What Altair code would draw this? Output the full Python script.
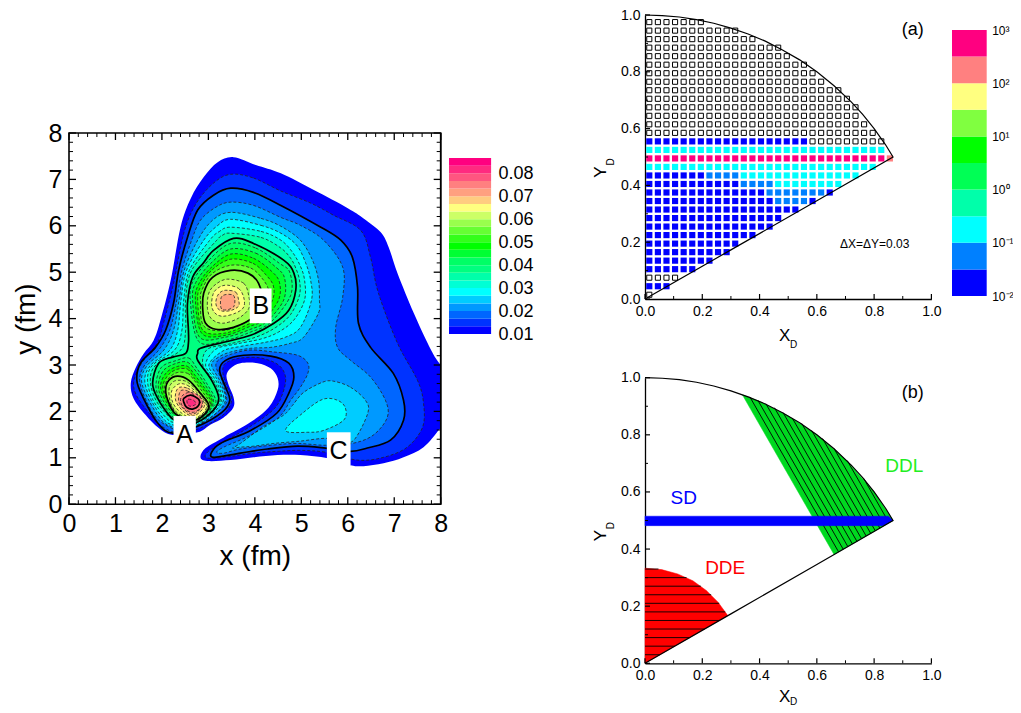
import altair as alt
import pandas as pd

FONT = "Liberation Sans"

# ---------- contour map: levels and colours ----------
BAND_COLORS = ["#0000ff", "#0033ff", "#0066ff", "#0099ff", "#00ccff", "#00ffff", "#00ffd5", "#00ffaa",
               "#00ff80", "#00ff66", "#00ff33", "#00ff00", "#33ff1a", "#66ff33", "#99ff4d", "#ccff66",
               "#ffff80", "#ffcc80", "#ffa080", "#ff8080", "#ff5580", "#ff2a80", "#ff0080"]
SOLID_LEVELS = [2, 8, 14, 20]
BAND_LOW = [0.01 + i / 300 for i in range(23)]
BAND_HIGH = [0.01 + (i + 1) / 300 for i in range(23)]

M0 = [(3.54,7.48),(4.02,7.31),(4.56,7.13),(5.27,6.77),(6.0,6.38),(6.34,6.16),(6.71,5.86),(6.88,5.54),(7.07,4.98),(7.42,4.12),(7.72,3.47),(7.89,3.15),(8.0,3.0),(8.1,2.9),(8.1,1.8),(7.96,1.6),(7.63,1.23),(7.2,1.01),(6.77,.88),(6.34,.82),(6.06,.84),(5.57,.99),(4.98,1.06),(4.49,1.06),(3.97,1.01),(3.48,.95),(2.98,.93),(2.83,1.01),(2.94,1.21),(3.33,1.44),(3.91,1.77),(4.3,2.09),(4.49,2.46),(4.49,2.72),(4.34,2.93),(4.06,3.04),(3.69,3.04),(3.48,2.93),(3.39,2.78),(3.44,2.56),(3.54,2.31),(3.54,2.09),(3.33,1.87),(3.05,1.72),(2.77,1.55),(2.23,1.49),(1.93,1.64),(1.65,1.92),(1.39,2.28),(1.33,2.61),(1.44,2.95),(1.61,3.25),(1.82,3.53),(1.97,3.97),(2.19,4.83),(2.4,5.97),(2.62,6.59),(2.9,7.05),(3.2,7.37)]
M1 = [(3.48,7.11),(3.97,7.03),(4.56,6.75),(5.2,6.49),(5.69,6.23),(6.28,5.9),(6.49,5.32),(6.66,4.55),(7.07,3.47),(7.5,2.67),(7.63,2.18),(7.61,1.66),(7.28,1.23),(6.77,1.01),(6.21,.95),(5.52,1.12),(4.98,1.16),(4.49,1.14),(3.97,1.1),(3.48,1.03),(3.12,.99),(2.94,1.01),(2.98,1.12),(3.2,1.27),(3.91,1.68),(4.41,2.05),(4.6,2.39),(4.66,2.74),(4.51,3.0),(4.13,3.15),(3.69,3.15),(3.37,3.04),(3.31,2.84),(3.4,2.54),(3.5,2.24),(3.31,1.92),(2.77,1.62),(2.3,1.55),(1.97,1.7),(1.71,1.98),(1.46,2.33),(1.39,2.61),(1.5,2.93),(1.69,3.21),(1.91,3.49),(2.04,3.92),(2.25,4.76),(2.47,5.84),(2.73,6.47),(3.11,6.92)]
M2 = [(3.48,6.81),(3.97,6.72),(4.56,6.44),(5.42,5.97),(5.85,5.69),(6.1,5.32),(6.21,4.68),(6.23,3.9),(6.49,3.38),(6.98,2.82),(7.2,2.24),(7.2,1.81),(6.92,1.38),(6.42,1.21),(6.06,1.14),(5.52,1.21),(4.92,1.25),(4.27,1.19),(3.69,1.1),(3.12,1.01),(3.07,1.12),(3.26,1.31),(3.91,1.59),(4.47,1.96),(4.73,2.39),(4.84,2.74),(4.73,3.04),(4.34,3.19),(3.76,3.21),(3.37,3.1),(3.24,2.89),(3.37,2.52),(3.46,2.24),(3.29,1.98),(2.77,1.68),(2.23,1.53),(1.91,1.75),(1.59,2.31),(1.46,2.67),(1.54,3.04),(1.86,3.38),(2.08,3.75),(2.25,4.33),(2.36,5.04),(2.55,5.75),(2.77,6.34),(3.11,6.66)]
M3 = [(3.48,6.51),(3.97,6.44),(4.56,6.18),(4.98,6.01),(5.48,5.69),(5.89,5.11),(5.89,4.46),(5.74,3.81),(5.78,3.38),(6.06,3.1),(6.49,2.74),(6.81,2.24),(6.85,1.87),(6.55,1.49),(6.1,1.31),(5.52,1.27),(4.9,1.31),(4.34,1.27),(3.69,1.19),(3.33,1.1),(3.18,1.12),(3.33,1.23),(3.91,1.49),(4.51,1.87),(4.77,2.24),(4.98,2.52),(5.14,2.82),(5.14,3.04),(4.92,3.21),(4.41,3.28),(3.85,3.32),(3.33,3.17),(3.16,3.0),(3.29,2.67),(3.39,2.31),(3.35,2.13),(3.09,1.9),(2.77,1.7),(2.47,1.55),(1.93,1.81),(1.66,2.24),(1.52,2.67),(1.63,3.0),(1.93,3.32),(2.17,3.75),(2.32,4.4),(2.43,5.04),(2.64,5.69),(2.83,6.12),(3.16,6.4)]
M4 = [(3.48,6.29),(4.13,6.16),(4.56,5.99),(4.98,5.69),(5.24,5.26),(5.37,4.83),(5.39,4.4),(5.37,4.12),(5.05,3.6),(4.77,3.47),(4.34,3.38),(3.91,3.36),(3.48,3.28),(3.22,3.17),(3.07,3.0),(3.24,2.67),(3.37,2.31),(3.29,2.09),(3.03,1.85),(2.77,1.7),(2.53,1.59),(2.23,1.66),(1.99,1.81),(1.72,2.24),(1.56,2.67),(1.69,3.0),(2.04,3.32),(2.25,3.75),(2.37,4.4),(2.48,5.04),(2.77,5.69),(3.09,6.12)]
C4 = [(5.7,2.65),(6.06,2.52),(6.38,2.24),(6.43,1.96),(6.13,1.38),(5.85,1.36),(5.52,1.42),(4.98,1.36),(4.41,1.31),(3.97,1.25),(3.69,1.23),(3.52,1.21),(3.69,1.31),(4.17,1.66),(4.62,1.92),(4.81,2.13),(5.05,2.41),(5.46,2.63)]
M5 = [(3.48,6.14),(4.13,6.01),(4.56,5.84),(4.9,5.58),(5.09,5.21),(5.2,4.83),(5.22,4.4),(4.98,3.81),(4.66,3.6),(4.23,3.49),(3.69,3.4),(3.31,3.3),(3.01,3.0),(3.2,2.67),(3.33,2.31),(3.24,2.11),(2.98,1.87),(2.77,1.72),(2.58,1.64),(2.27,1.7),(2.06,1.81),(1.77,2.24),(1.63,2.67),(1.76,3.0),(2.17,3.32),(2.34,3.75),(2.41,4.4),(2.53,5.04),(2.9,5.69),(3.18,5.99)]
C5 = [(5.78,2.24),(5.95,2.07),(5.91,1.81),(5.48,1.59),(5.14,1.55),(4.66,1.59),(5.05,1.98),(5.46,2.26)]
M6 = [(3.48,5.97),(4.13,5.88),(4.56,5.69),(4.81,5.43),(4.98,5.13),(5.07,4.83),(5.07,4.4),(4.84,3.97),(4.51,3.71),(4.13,3.56),(3.59,3.45),(3.16,3.34),(2.94,3.0),(3.16,2.67),(3.29,2.31),(3.2,2.11),(2.94,1.9),(2.75,1.75),(2.62,1.68),(2.32,1.75),(2.12,1.83),(1.81,2.24),(1.69,2.67),(1.8,3.0),(2.27,3.32),(2.43,3.75),(2.47,4.4),(2.59,5.04),(3.03,5.69),(3.24,5.88)]
M7 = [(3.48,5.84),(4.13,5.75),(4.56,5.52),(4.77,5.3),(4.88,5.09),(4.96,4.83),(4.96,4.5),(4.77,4.09),(4.45,3.81),(4.02,3.6),(3.44,3.45),(2.98,3.34),(2.88,3.0),(3.11,2.67),(3.26,2.31),(3.16,2.11),(2.9,1.9),(2.75,1.79),(2.66,1.72),(2.36,1.79),(2.17,1.87),(1.87,2.24),(1.75,2.67),(1.87,3.0),(2.4,3.32),(2.51,3.75),(2.51,4.4),(2.64,5.04),(3.18,5.69),(3.31,5.8)]
M8 = [(3.54,5.73),(3.97,5.62),(4.62,5.26),(4.84,4.98),(4.88,4.61),(4.73,4.18),(4.41,3.9),(3.91,3.64),(3.33,3.49),(2.83,3.36),(2.77,3.25),(2.77,3.1),(3.07,2.67),(3.22,2.31),(3.16,2.09),(2.94,1.87),(2.77,1.77),(2.55,1.7),(2.3,1.79),(2.15,1.92),(1.91,2.28),(1.8,2.61),(1.93,3.04),(2.23,3.17),(2.51,3.25),(2.57,3.47),(2.57,3.75),(2.55,4.33),(2.66,4.89),(2.9,5.21),(3.11,5.47)]
B9 = [(3.48,5.62),(4.02,5.52),(4.53,5.19),(4.75,5.0),(4.77,4.5),(4.34,3.92),(3.91,3.71),(3.37,3.53),(2.79,3.51),(2.61,4.4),(2.68,4.83),(3.03,5.28)]
B10 = [(3.48,5.5),(4.02,5.41),(4.45,5.11),(4.64,4.87),(4.62,4.4),(4.26,3.94),(3.91,3.77),(3.37,3.6),(2.81,3.6),(2.66,4.4),(2.73,4.78),(3.05,5.19)]
B11 = [(3.48,5.39),(3.97,5.3),(4.36,5.02),(4.53,4.78),(4.51,4.4),(4.19,3.97),(3.91,3.84),(3.37,3.64),(2.86,3.68),(2.72,4.4),(2.79,4.74),(3.05,5.09)]
B12 = [(3.48,5.28),(3.96,5.19),(4.25,4.93),(4.4,4.7),(4.38,4.4),(4.12,3.99),(3.91,3.9),(3.37,3.69),(2.88,3.75),(2.77,4.4),(2.83,4.68),(3.07,5.04)]
B13 = [(3.48,5.15),(3.91,5.09),(4.17,4.85),(4.3,4.61),(4.28,4.4),(4.04,4.01),(3.91,3.97),(3.37,3.75),(2.9,3.84),(2.83,4.4),(2.86,4.61),(3.07,4.96)]
B14 = [(3.48,5.04),(3.85,4.98),(4.08,4.76),(4.17,4.33),(3.97,4.03),(3.54,3.81),(3.16,3.77),(2.94,3.9),(2.88,4.18),(2.9,4.55),(3.09,4.89)]
B15 = [(3.41,4.85),(3.76,4.76),(3.87,4.48),(3.87,4.22),(3.65,4.01),(3.31,3.9),(3.07,3.99),(2.98,4.22),(3.01,4.55),(3.16,4.74)]
B16 = [(3.41,4.72),(3.65,4.65),(3.76,4.46),(3.76,4.25),(3.59,4.12),(3.31,4.05),(3.14,4.12),(3.07,4.29),(3.11,4.55),(3.24,4.68)]
B17 = [(3.41,4.61),(3.59,4.57),(3.65,4.4),(3.65,4.27),(3.5,4.18),(3.31,4.16),(3.2,4.22),(3.16,4.35),(3.2,4.5),(3.29,4.59)]
B18 = [(3.29,4.48),(3.54,4.5),(3.54,4.25),(3.29,4.2)]
A9 = [(2.32,3.1),(2.58,3.15),(2.75,2.93),(2.96,2.61),(3.16,2.24),(3.07,2.07),(2.9,1.9),(2.73,1.77),(2.55,1.72),(2.32,1.81),(2.19,1.94),(1.97,2.24),(1.87,2.56),(1.99,2.95)]
A10 = [(2.32,3.04),(2.55,3.06),(2.73,2.87),(2.94,2.56),(3.11,2.24),(3.03,2.05),(2.88,1.9),(2.73,1.79),(2.4,1.81),(2.23,1.96),(2.02,2.24),(1.92,2.56),(2.04,2.89)]
A11 = [(2.34,2.97),(2.55,2.97),(2.71,2.78),(2.92,2.5),(3.08,2.24),(3.01,2.05),(2.86,1.9),(2.71,1.81),(2.43,1.83),(2.25,2.0),(2.06,2.26),(1.97,2.56),(2.1,2.84)]
A12 = [(2.34,2.91),(2.55,2.91),(2.68,2.74),(2.9,2.46),(3.05,2.22),(2.98,2.03),(2.83,1.9),(2.68,1.81),(2.38,1.87),(2.23,2.05),(2.08,2.31),(2.02,2.56),(2.15,2.8)]
A13 = [(2.34,2.84),(2.55,2.82),(2.68,2.69),(2.88,2.41),(3.03,2.18),(2.94,1.96),(2.81,1.87),(2.68,1.81),(2.34,1.92),(2.21,2.11),(2.08,2.33),(2.06,2.56),(2.17,2.74)]
A14 = [(2.34,2.76),(2.58,2.67),(2.83,2.39),(3.01,2.13),(2.9,1.92),(2.68,1.81),(2.3,1.94),(2.15,2.18),(2.08,2.46),(2.15,2.67)]
A15 = [(2.34,2.67),(2.55,2.63),(2.81,2.39),(2.98,2.13),(2.88,1.92),(2.66,1.83),(2.34,1.96),(2.19,2.18),(2.15,2.46),(2.21,2.61)]
A16 = [(2.36,2.59),(2.55,2.56),(2.79,2.37),(2.96,2.13),(2.86,1.94),(2.64,1.85),(2.38,2.0),(2.23,2.2),(2.21,2.44)]
A17 = [(2.38,2.52),(2.55,2.5),(2.75,2.37),(2.92,2.16),(2.81,1.98),(2.64,1.9),(2.43,2.03),(2.3,2.22),(2.3,2.41)]
A18 = [(2.4,2.44),(2.55,2.44),(2.71,2.33),(2.86,2.13),(2.77,2.0),(2.64,1.94),(2.47,2.05),(2.36,2.22)]
A19 = [(2.45,2.35),(2.62,2.41),(2.83,2.31),(2.86,2.11),(2.68,1.98),(2.49,2.05),(2.4,2.22)]
A20 = [(2.47,2.28),(2.62,2.35),(2.79,2.26),(2.79,2.13),(2.66,2.05),(2.53,2.09),(2.47,2.2)]
A21 = [(2.55,2.26),(2.68,2.24),(2.73,2.16),(2.62,2.11),(2.55,2.16)]

CONTOURS = [(0,M0),(1,M1),(2,M2),(3,M3),(4,M4),(4,C4),(5,M5),(5,C5),(6,M6),(7,M7),(8,M8),
            (9,B9),(10,B10),(11,B11),(12,B12),(13,B13),(14,B14),(15,B15),(16,B16),(17,B17),(18,B18),
            (9,A9),(10,A10),(11,A11),(12,A12),(13,A13),(14,A14),(15,A15),(16,A16),(17,A17),(18,A18),(19,A19),(20,A20),(21,A21)]

LETTERS = ["A", "B", "C"]
LETTER_X = [2.49, 4.13, 5.8]
LETTER_Y = [1.5, 4.27, 1.15]
BOX_X1 = [2.25, 3.89, 5.55]
BOX_X2 = [2.73, 4.36, 6.06]
BOX_Y1 = [1.16, 3.9, .84]
BOX_Y2 = [1.9, 4.65, 1.55]

# ---------- panel (a) ----------
CELL_COLORS = {"B": "#0000ff", "L": "#0080ff", "C": "#00ffff", "P": "#ff0080", "S": "#ff8080"}
ROWS = ["o", "BBB", "oooo", "BBBBBB", "B"*8, "B"*10, "B"*11, "B"*13, "B"*15, "B"*16, "B"*18,
        "B"*15+"LLLL"+"B", "B"*14+"L"*7+"B", "B"*11+"LLLL"+"C"*8, "B"*7+"LLLL"+"C"*14, "C"*27,
        "P"*28+"S", "C"*28, "B"*19+"o"*9, "o"*27, "o"*26, "o"*25, "o"*25, "o"*24, "o"*23, "o"*21,
        "o"*20, "o"*19, "o"*17, "o"*16, "o"*13, "o"*11, "o"*7]
BAR_A_COLORS = ["#0000ff", "#0080ff", "#00ffff", "#00ffaa", "#00ff55", "#00ff00", "#80ff40", "#ffff80", "#ff8080", "#ff0080"]
BAR_A_LOW = [.01, .0316, .1, .316, 1, 3.16, 10, 31.6, 100, 316]
BAR_A_HIGH = [.0316, .1, .316, 1, 3.16, 10, 31.6, 100, 316, 1000]

# ---------- panels: outline and regions ----------
OUT_X = [0, .06, .12, .18, .24, .3, .36, .42, .48, .54, .6, .66, .72, .76, .8, .84, .866, .6, .3, 0]
OUT_Y = [1, .998, .993, .984, .971, .954, .933, .908, .877, .842, .8, .751, .694, .65, .6, .543, .5, .346, .173, 0]
RED_X = [0, 0, .058, .114, .167, .214, .255, .289]
RED_Y = [0, .333, .328, .313, .289, .255, .214, .167]
GREEN_X = [.34, .4, .5, .6, .7, .8, .866, .66]
GREEN_Y = [.94, .917, .866, .8, .714, .6, .5, .381]
BLUE_X = [0, .83, .866, .85, 0]
BLUE_Y = [.482, .482, .5, .515, .515]
RED_H_Y = [.03, .06, .09, .12, .15, .18, .21, .24, .27, .30, .33]
RED_H_X = [.052, .104, .156, .208, .26, .28, .259, .231, .195, .145, .047]
GR_X1 = [.366, .394, .422, .452, .482, .514, .547, .582, .62, .66, .706, .763]
GR_Y1 = [.933, .921, .909, .895, .878, .859, .84, .815, .787, .752, .71, .648]
GR_X2 = [.676, .692, .708, .724, .74, .756, .772, .788, .804, .82, .836, .852]
GR_Y2 = [.39, .3995, .409, .418, .427, .436, .446, .455, .464, .473, .483, .492]

# ---------- geometry ----------
MAP_W, MAP_H = 371.7, 371.2
BAR1_W, BAR1_H = 42.1, 176
P_W, P_H = 286.4, 285.6
P_H_A = 284
BAR2_W, BAR2_H = 34.7, 266

ONE = pd.DataFrame({"v": [0]})


def spacer(w, h):
    return (alt.Chart(ONE).mark_rule(opacity=0, strokeWidth=0).encode(x=alt.value(0), y=alt.value(0))
            .properties(width=w, height=h, view=alt.ViewConfig(stroke=None)))


def tick_layer(values, side, length, xpos, ypos, w, h, sw=1.0):
    df = pd.DataFrame({"x": values, "y": values})
    m = alt.Chart(df).mark_rule(color="black", strokeWidth=sw)
    if side in ("bottom", "top"):
        y0, y1 = (h, h - length) if side == "bottom" else (0, length)
        return m.encode(x=xpos, y=alt.value(y0), y2=alt.value(y1))
    x0, x1 = (0, length) if side == "left" else (w, w - length)
    return m.encode(y=ypos, x=alt.value(x0), x2=alt.value(x1))


def px_text(txt, x, y, size, angle=0, color="black"):
    return alt.Chart(ONE).mark_text(text=txt, fontSize=size, font=FONT, color=color, angle=angle,
                                    align="center", baseline="middle").encode(x=alt.value(x), y=alt.value(y))


# ---------- map ----------
rows = []
for pid, (k, pts) in enumerate(CONTOURS):
    for i, (x, y) in enumerate(pts):
        rows.append({"x": x, "y": y, "i": i, "poly": pid, "k": k, "fillc": BAND_COLORS[k]})
cdf = pd.DataFrame(rows)

mx = alt.Scale(domain=[0, 8], nice=False, zero=False)
my = alt.Scale(domain=[0, 8], nice=False, zero=False)
AX_MX = alt.Axis(values=list(range(9)), title="x (fm)", grid=False, ticks=False,
                 labelFontSize=25, titleFontSize=28, labelPadding=7, titlePadding=6,
                 titleFontWeight="normal", domain=False, labelFont=FONT, titleFont=FONT,
                 labelColor="black", titleColor="black", labelFlush=False, labelOverlap=False, format="d")
AX_MY = alt.Axis(values=list(range(9)), title="y (fm)", grid=False, ticks=False,
                 labelFontSize=25, titleFontSize=28, labelPadding=7, titlePadding=8,
                 titleFontWeight="normal", domain=False, labelFont=FONT, titleFont=FONT,
                 labelColor="black", titleColor="black", labelFlush=False, labelOverlap=False, format="d")
X_MAP = alt.X("x:Q", scale=mx, axis=AX_MX)
Y_MAP = alt.Y("y:Q", scale=my, axis=AX_MY)

fills = alt.Chart(cdf).mark_line(clip=True, strokeWidth=0, interpolate="cardinal-closed").encode(
    x=X_MAP, y=Y_MAP, order="i:Q", detail="poly:N", fill=alt.Fill("fillc:N", scale=None))
dashed = alt.Chart(cdf[(cdf.k > 0) & (~cdf.k.isin(SOLID_LEVELS))]).mark_line(
    clip=True, strokeWidth=0.8, strokeDash=[3, 2], color="#222222", interpolate="cardinal-closed").encode(
    x=X_MAP, y=Y_MAP, order="i:Q", detail="poly:N")
solid = alt.Chart(cdf[cdf.k.isin(SOLID_LEVELS)]).mark_line(
    clip=True, strokeWidth=1.7, color="black", interpolate="cardinal-closed").encode(
    x=X_MAP, y=Y_MAP, order="i:Q", detail="poly:N")
ldf = pd.DataFrame({"t": LETTERS, "x": LETTER_X, "y": LETTER_Y, "x1": BOX_X1, "x2": BOX_X2, "y1": BOX_Y1, "y2": BOX_Y2})
boxes = alt.Chart(ldf).mark_rect(color="white").encode(
    x=alt.X("x1:Q", scale=mx, axis=AX_MX), x2="x2:Q", y=alt.Y("y1:Q", scale=my, axis=AX_MY), y2="y2:Q")
letters = alt.Chart(ldf).mark_text(fontSize=25, font=FONT, color="black").encode(x=X_MAP, y=Y_MAP, text="t:N")
right_edge = alt.Chart(pd.DataFrame({"x": [8]})).mark_rule(color="black", strokeWidth=1.5).encode(x=X_MAP)

MAJ = list(range(9))
MIN = [round(i * .2, 1) for i in range(41) if i % 5]
map_ticks = []
for side in ("bottom", "top", "left", "right"):
    map_ticks += [tick_layer(MAJ, side, 7, X_MAP, Y_MAP, MAP_W, MAP_H, 1.3),
                  tick_layer(MIN, side, 4, X_MAP, Y_MAP, MAP_W, MAP_H)]

map_chart = alt.layer(fills, dashed, solid, boxes, letters, right_edge, *map_ticks).properties(
    width=MAP_W, height=MAP_H, view=alt.ViewConfig(stroke="black", strokeWidth=1.6))

# ---------- colour bar 1 ----------
bdf = pd.DataFrame({"lo": BAND_LOW, "hi": BAND_HIGH, "c": BAND_COLORS})
bar1 = alt.Chart(bdf).mark_rect().encode(
    x=alt.value(0), x2=alt.value(BAR1_W),
    y=alt.Y("lo:Q", scale=alt.Scale(domain=[0.01, 0.01 + 23 / 300], nice=False, zero=False),
            axis=alt.Axis(orient="right", values=[.01, .02, .03, .04, .05, .06, .07, .08], format=".2f", title=None,
                          ticks=False, domain=False, grid=False, labelFontSize=18, labelPadding=7, labelFont=FONT,
                          labelColor="black", labelFlush=False, labelOverlap=False)),
    y2="hi:Q", fill=alt.Fill("c:N", scale=None)).properties(
    width=BAR1_W, height=BAR1_H, view=alt.ViewConfig(stroke=None))

# ---------- right panels ----------
ps = alt.Scale(domain=[0, 1], nice=False, zero=False)


def p_axis():
    return alt.Axis(values=[0, .2, .4, .6, .8, 1], format=".1f", title=None, ticks=False, grid=False, domain=True,
                    domainColor="black", domainWidth=1.3, labelFontSize=14, labelPadding=5, labelFont=FONT,
                    labelColor="black", labelFlush=False, labelOverlap=False)


PX = alt.X("x:Q", scale=ps, axis=p_axis())
PY = alt.Y("y:Q", scale=ps, axis=p_axis())

P_MAJ = [0, .2, .4, .6, .8, 1]
P_MIN = [.1, .3, .5, .7, .9]


def p_ticks(h):
    return [tick_layer(P_MAJ, "bottom", 5, PX, PY, P_W, h, 1.2), tick_layer(P_MIN, "bottom", 3, PX, PY, P_W, h),
            tick_layer(P_MAJ, "left", 5, PX, PY, P_W, h, 1.2), tick_layer(P_MIN, "left", 3, PX, PY, P_W, h)]


odf = pd.DataFrame({"x": OUT_X, "y": OUT_Y, "i": range(len(OUT_X))})


def outline(sw=1.2):
    return alt.Chart(odf).mark_line(color="black", strokeWidth=sw).encode(x=PX, y=PY, order="i:Q")


def labels_xy(xlab_y, dlab_y, ylab_y, dy_y):
    return [px_text("X", 139.7, xlab_y, 17), px_text("D", 148.7, dlab_y, 10),
            px_text("Y", -44.3, ylab_y, 17, angle=270), px_text("D", -34.5, dy_y, 10, angle=270)]


cells = []
for j, row in enumerate(ROWS):
    for i, code in enumerate(row):
        cells.append({"x": round(.015 + .03 * i, 3), "y": round(.015 + .03 * j, 3), "code": code,
                      "c": CELL_COLORS.get(code, "white")})
cell_df = pd.DataFrame(cells)
open_sq = alt.Chart(cell_df[cell_df.code == "o"]).mark_point(
    shape="square", filled=False, stroke="black", strokeWidth=1, size=26, opacity=1).encode(x=PX, y=PY)
full_sq = alt.Chart(cell_df[cell_df.code != "o"]).mark_point(
    shape="square", filled=True, size=38, opacity=1).encode(x=PX, y=PY, fill=alt.Fill("c:N", scale=None))

tag_a = alt.Chart(pd.DataFrame({"x": [.935], "y": [.947], "t": ["(a)"]})).mark_text(
    fontSize=18, font=FONT, color="black").encode(x=PX, y=PY, text="t:N")
note = alt.Chart(pd.DataFrame({"x": [.802], "y": [.192], "t": ["\u0394X=\u0394Y=0.03"]})).mark_text(
    fontSize=12, font=FONT, color="black").encode(x=PX, y=PY, text="t:N")

panel_a = alt.layer(open_sq, full_sq, outline(), *p_ticks(P_H_A), tag_a, note, *labels_xy(321, 330, 157, 147)).properties(
    width=P_W, height=P_H_A, view=alt.ViewConfig(stroke=None))


def poly(xs, ys, color):
    d = pd.DataFrame({"x": xs, "y": ys, "i": range(len(xs))})
    return alt.Chart(d).mark_line(fill=color, stroke=color, strokeWidth=0.5, interpolate="linear-closed").encode(
        x=PX, y=PY, order="i:Q")


def segs(x1, y1, x2, y2):
    d = pd.DataFrame({"x": x1, "y": y1, "x2": x2, "y2": y2})
    return alt.Chart(d).mark_rule(color="black", strokeWidth=0.9).encode(x=PX, y=PY, x2="x2:Q", y2="y2:Q")


txt_b = pd.DataFrame({"x": [.135, .28, .905], "y": [.58, .333, .69], "t": ["SD", "DDE", "DDL"],
                      "c": ["#0000ff", "#ff0000", "#22ee22"]})
labels_b = alt.Chart(txt_b).mark_text(fontSize=19, font=FONT).encode(
    x=PX, y=PY, text="t:N", color=alt.Color("c:N", scale=None))
tag_b = alt.Chart(pd.DataFrame({"x": [.935], "y": [.946], "t": ["(b)"]})).mark_text(
    fontSize=18, font=FONT, color="black").encode(x=PX, y=PY, text="t:N")

panel_b = alt.layer(
    poly(RED_X, RED_Y, "#ff0000"),
    segs([0] * len(RED_H_Y), RED_H_Y, RED_H_X, RED_H_Y),
    poly(GREEN_X, GREEN_Y, "#00d820"),
    segs(GR_X1, GR_Y1, GR_X2, GR_Y2),
    poly(BLUE_X, BLUE_Y, "#0000ff"),
    outline(), *p_ticks(P_H), labels_b, tag_b, *labels_xy(319, 324.5, 158, 148)
).properties(width=P_W, height=P_H, view=alt.ViewConfig(stroke=None))

# ---------- colour bar 2 ----------
bar2_df = pd.DataFrame({"lo": BAR_A_LOW, "hi": BAR_A_HIGH, "c": BAR_A_COLORS})
sup = ("datum.value < 0.02 ? '10\u207b\u00b2' : datum.value < 0.2 ? '10\u207b\u00b9' : datum.value < 2 ? '10\u2070' : "
       "datum.value < 20 ? '10\u00b9' : datum.value < 200 ? '10\u00b2' : '10\u00b3'")
bar2 = alt.Chart(bar2_df).mark_rect().encode(
    x=alt.value(0), x2=alt.value(BAR2_W),
    y=alt.Y("lo:Q", scale=alt.Scale(type="log", domain=[.01, 1000], nice=False),
            axis=alt.Axis(orient="right", values=[.01, .1, 1, 10, 100, 1000], labelExpr=sup, title=None, ticks=False,
                          domain=False, grid=False, labelFontSize=12, labelPadding=5, labelFont=FONT,
                          labelColor="black", labelFlush=False, labelOverlap=False)),
    y2="hi:Q", fill=alt.Fill("c:N", scale=None)).properties(
    width=BAR2_W, height=BAR2_H, view=alt.ViewConfig(stroke=None))

# ---------- layout ----------
col1 = alt.vconcat(spacer(1, 117.6), map_chart, spacing=0, bounds="flush")
col2 = alt.vconcat(spacer(1, 142.3), bar1, spacing=0, bounds="flush")
col3 = alt.vconcat(panel_a, panel_b, spacing=78.7, bounds="flush")
col4 = alt.vconcat(spacer(1, 14.3), bar2, spacing=0, bounds="flush")

chart = alt.hconcat(col1, col2, spacer(57, 1), col3, spacer(9.4, 1), col4, spacing=0).properties(
    padding={"left": 3, "top": 0, "right": -1, "bottom": -2}, background="white")

chart.save("out.html", embed_options={"renderer": "svg", "actions": False})
